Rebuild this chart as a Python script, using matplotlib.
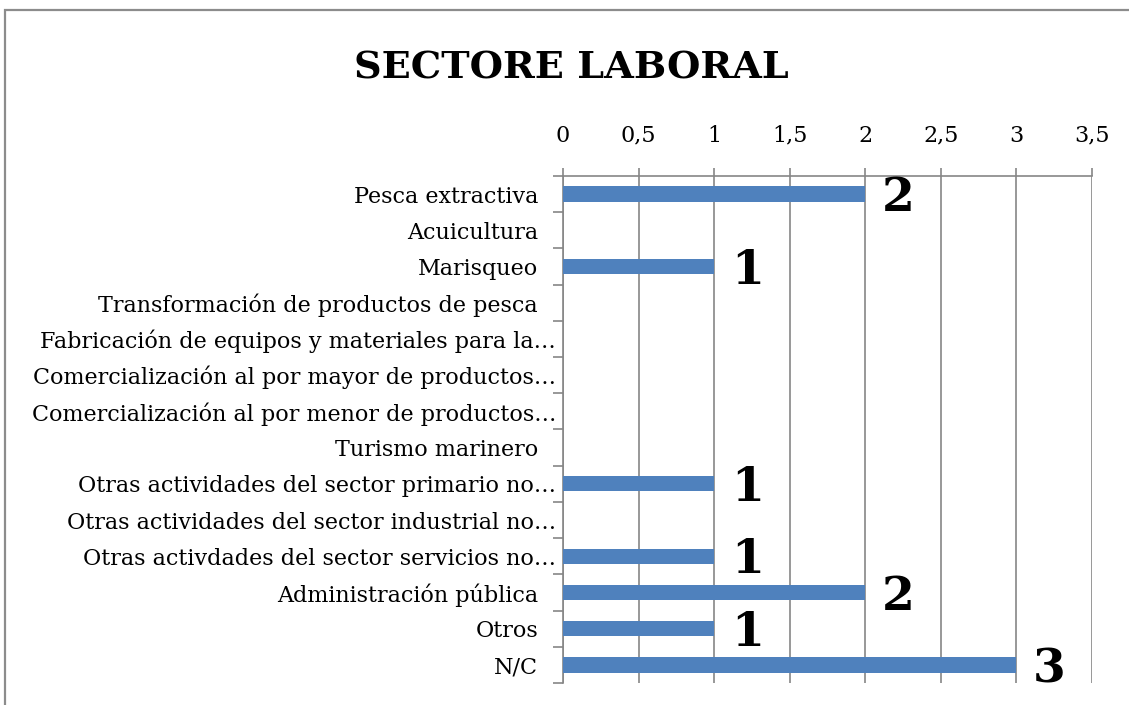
import matplotlib
matplotlib.use('Agg')
import matplotlib.pyplot as plt
from matplotlib.patches import Rectangle
from matplotlib.transforms import ScaledTranslation

plt.rcParams['font.family'] = ['DejaVu Serif Condensed', 'DejaVu Serif']

categorias = [
    'Pesca extractiva',
    'Acuicultura',
    'Marisqueo',
    'Transformación de productos de pesca',
    'Fabricación de equipos y materiales para la…',
    'Comercialización al por mayor de productos…',
    'Comercialización al por menor de productos…',
    'Turismo marinero',
    'Otras actividades del sector primario no…',
    'Otras actividades del sector industrial no…',
    'Otras activdades del sector servicios no…',
    'Administración pública',
    'Otros',
    'N/C',
]
valores = [2, 0, 1, 0, 0, 0, 0, 0, 1, 0, 1, 2, 1, 3]
xticks = [0, 0.5, 1, 1.5, 2, 2.5, 3, 3.5]
xtick_labels = ['0', '0,5', '1', '1,5', '2', '2,5', '3', '3,5']

gris = '#868686'
azul = '#4F81BD'

fig = plt.figure(figsize=(11.29, 7.05), dpi=100)
ax = fig.add_axes([0.4987, 0.0312, 0.9672 - 0.4987, 0.7504 - 0.0312])

y = list(range(len(categorias)))
ax.barh(y, valores, height=0.42, color=azul, zorder=3)

ax.set_xlim(0, 3.5)
ax.set_ylim(len(categorias) - 0.5, -0.5)

# eje x arriba
ax.xaxis.tick_top()
ax.set_xticks(xticks)
ax.set_xticklabels(xtick_labels, fontsize=16)
ax.tick_params(axis='x', direction='out', length=6, width=1.2, color=gris, pad=15)
ax.grid(axis='x', color=gris, linewidth=1.2, zorder=0)

# eje y: etiquetas en el centro, marcas en los limites
ax.set_yticks(y)
ax.set_yticklabels(categorias, fontsize=16)
ax.set_yticks([i - 0.5 for i in range(len(categorias) + 1)], minor=True)
ax.tick_params(axis='y', which='major', length=0, pad=18)
ax.tick_params(axis='y', which='minor', direction='out', length=7, width=1.2, color=gris)

for lab in ax.get_yticklabels():
    if lab.get_text().endswith('…'):
        lab.set_transform(lab.get_transform() + ScaledTranslation(18 / 100, 0, fig.dpi_scale_trans))

for s in ['right', 'bottom']:
    ax.spines[s].set_visible(False)
for s in ['left', 'top']:
    ax.spines[s].set_color(gris)
    ax.spines[s].set_linewidth(1.2)

for yi, v in zip(y, valores):
    if v > 0:
        ax.annotate(str(v), xy=(v, yi), xytext=(12, -3), textcoords='offset points',
                    ha='left', va='center', fontsize=34, fontweight='bold', zorder=4)

fig.text(0.506, 0.888, 'SECTORE LABORAL', ha='center', va='baseline',
         fontsize=27.5, fontweight='bold')

fig.patches.append(Rectangle((4.5 / 1129, -0.1), 1.2, 1 - 10.5 / 705 + 0.1,
                             transform=fig.transFigure, fill=False,
                             edgecolor='#8c8c8c', linewidth=1.6))

fig.savefig('out.png', dpi=100, facecolor='white')
